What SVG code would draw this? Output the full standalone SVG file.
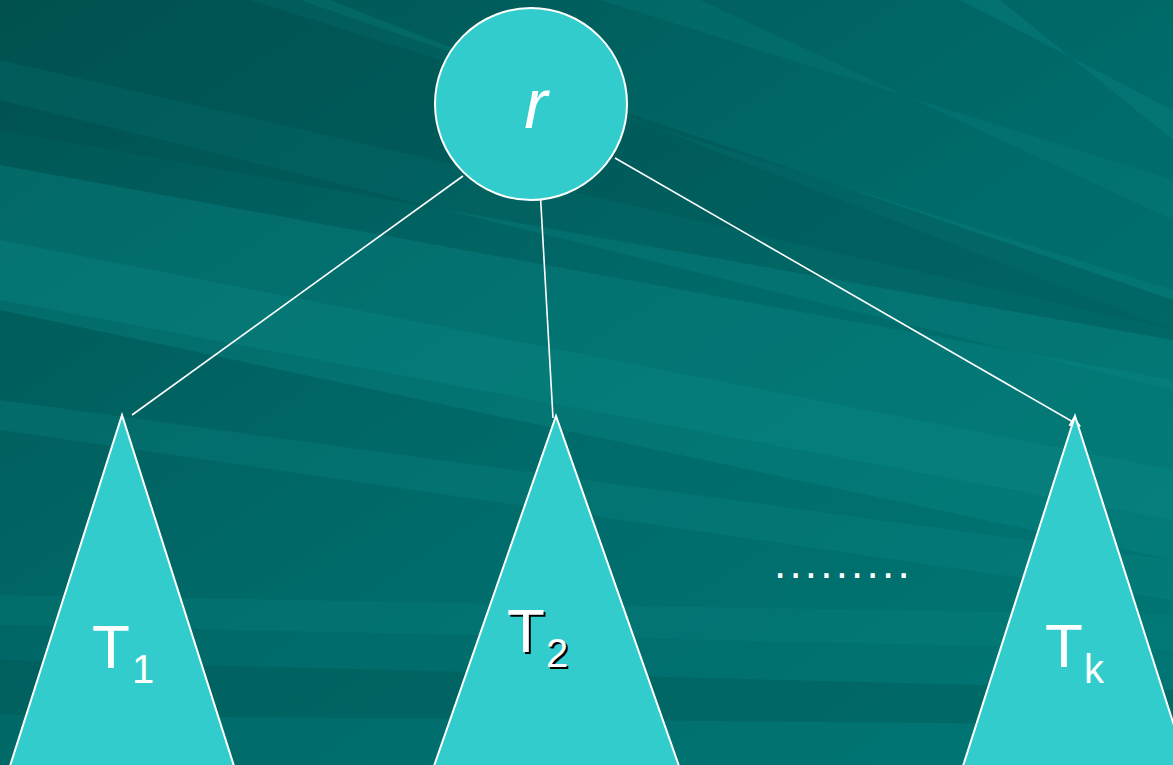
<svg xmlns="http://www.w3.org/2000/svg" width="1173" height="765" viewBox="0 0 1173 765">
<defs>
<linearGradient id="bg" x1="0" y1="0" x2="1" y2="1">
<stop offset="0" stop-color="#005452"/>
<stop offset="0.5" stop-color="#006a69"/>
<stop offset="1" stop-color="#007775"/>
</linearGradient>
<marker id="arr" viewBox="0 0 10 10" refX="9" refY="5" markerWidth="9" markerHeight="7" orient="auto" markerUnits="strokeWidth">
<path d="M0,0 L10,5 L0,10 z" fill="#ffffff"/>
</marker>
<style>
.node{fill:#33CCCC;stroke:#ffffff;stroke-width:2}
.edge{stroke:#ffffff;stroke-width:1.6;fill:none}
.lbl{font-family:"Liberation Sans",Arial,sans-serif;fill:#ffffff}
.streak{fill:#0a8a88}
</style>
</defs>
<g id="background">
<rect width="1173" height="765" fill="url(#bg)"/>
<polygon class="streak" opacity="0.35" points="0,165 0,310 1173,560 1173,380"/>
<polygon class="streak" opacity="0.3" points="0,240 0,300 1173,520 1173,470"/>
<polygon class="streak" opacity="0.25" points="0,60 0,100 1173,390 1173,330"/>
<polygon class="streak" opacity="0.25" points="250,0 330,0 1173,330 1173,290"/>
<polygon class="streak" opacity="0.2" points="600,0 700,0 1173,220 1173,180"/>
<polygon class="streak" opacity="0.3" points="960,0 1000,0 1173,140 1173,110"/>
<polygon class="streak" opacity="0.25" points="0,400 0,430 1173,600 1173,560"/>
<polygon fill="#004e4c" opacity="0.35" points="0,0 300,0 1173,300 1173,340 0,130"/>
<polygon fill="#004e4c" opacity="0.3" points="0,660 0,715 1173,725 1173,690"/>
<polygon class="streak" opacity="0.2" points="0,595 0,625 1173,650 1173,615"/>
</g>
<g id="connectors">
<line class="edge" x1="463" y1="176" x2="132" y2="415"/>
<line class="edge" x1="540" y1="188" x2="553" y2="418"/>
<line class="edge" x1="615" y1="158" x2="1080" y2="426" marker-end="url(#arr)"/>
</g>
<g id="node-r">
<circle class="node" cx="531" cy="104" r="96"/>
<text class="lbl" x="536" y="128" font-size="70" font-style="italic" text-anchor="middle">r</text>
</g>
<g id="node-T1">
<polygon class="node" points="122,415 10,766 234,766"/>
<text class="lbl" x="92" y="668" font-size="62">T<tspan font-size="40" dx="2" dy="15">1</tspan></text>
</g>
<g id="node-T2">
<polygon class="node" points="556,416 434,766 679,766"/>
<text x="509" y="654" font-size="62" font-family="Liberation Sans, Arial, sans-serif" fill="#000000">T<tspan font-size="40" dx="1" dy="15">2</tspan></text>
<text class="lbl" x="507" y="652" font-size="62">T<tspan font-size="40" dx="1" dy="15">2</tspan></text>
</g>
<g id="node-Tk">
<polygon class="node" points="1075,416 963,766 1187,766"/>
<text class="lbl" x="1045" y="667" font-size="62">T<tspan font-size="40" dx="1" dy="16">k</tspan></text>
</g>
<g id="ellipsis">
<text class="lbl" x="774" y="578" font-size="44" letter-spacing="3.2">.........</text>
</g>
</svg>
